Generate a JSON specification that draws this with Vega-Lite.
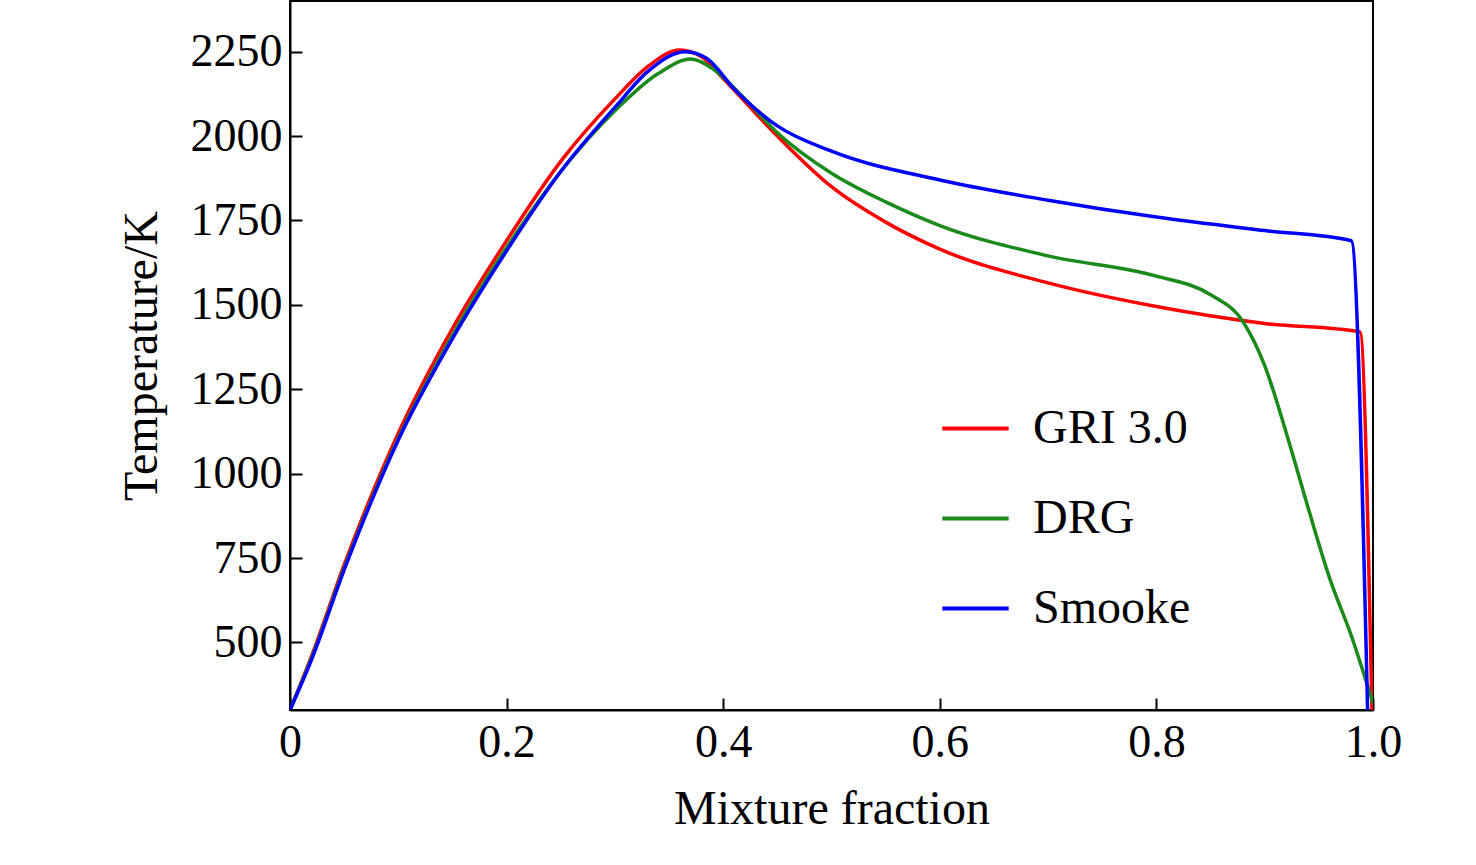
{
  "$schema": "https://vega.github.io/schema/vega-lite/v6.json",
  "autosize": "none",
  "width": 1083,
  "height": 709,
  "padding": {"left": 290, "top": 1, "right": 103, "bottom": 155},
  "background": "white",
  "config": {
    "font": "Liberation Serif",
    "view": {"stroke": "black", "strokeWidth": 2},
    "axis": {"labelFontSize": 46, "titleFontSize": 48, "titleFontWeight": "normal", "labelColor": "black", "titleColor": "black", "grid": false, "domainColor": "black", "domainWidth": 2, "tickColor": "black", "tickWidth": 2, "tickSize": -12}
  },
  "data": {"values": [
    {"s": "GRI 3.0", "x": 0, "t": 300},
    {"s": "GRI 3.0", "x": 0.02, "t": 460},
    {"s": "GRI 3.0", "x": 0.05, "t": 730},
    {"s": "GRI 3.0", "x": 0.1, "t": 1120},
    {"s": "GRI 3.0", "x": 0.15, "t": 1430},
    {"s": "GRI 3.0", "x": 0.2, "t": 1690},
    {"s": "GRI 3.0", "x": 0.25, "t": 1925},
    {"s": "GRI 3.0", "x": 0.3, "t": 2110},
    {"s": "GRI 3.0", "x": 0.33, "t": 2205},
    {"s": "GRI 3.0", "x": 0.36, "t": 2255},
    {"s": "GRI 3.0", "x": 0.38, "t": 2235},
    {"s": "GRI 3.0", "x": 0.4, "t": 2170},
    {"s": "GRI 3.0", "x": 0.45, "t": 2000},
    {"s": "GRI 3.0", "x": 0.5, "t": 1850},
    {"s": "GRI 3.0", "x": 0.55, "t": 1745},
    {"s": "GRI 3.0", "x": 0.6, "t": 1665},
    {"s": "GRI 3.0", "x": 0.7, "t": 1565},
    {"s": "GRI 3.0", "x": 0.8, "t": 1495},
    {"s": "GRI 3.0", "x": 0.9, "t": 1445},
    {"s": "GRI 3.0", "x": 0.988, "t": 1420},
    {"s": "GRI 3.0", "x": 0.999, "t": 300},
    {"s": "DRG", "x": 0, "t": 300},
    {"s": "DRG", "x": 0.02, "t": 455},
    {"s": "DRG", "x": 0.05, "t": 720},
    {"s": "DRG", "x": 0.1, "t": 1105},
    {"s": "DRG", "x": 0.15, "t": 1410},
    {"s": "DRG", "x": 0.2, "t": 1670},
    {"s": "DRG", "x": 0.25, "t": 1895},
    {"s": "DRG", "x": 0.3, "t": 2075},
    {"s": "DRG", "x": 0.34, "t": 2185},
    {"s": "DRG", "x": 0.37, "t": 2228},
    {"s": "DRG", "x": 0.39, "t": 2200},
    {"s": "DRG", "x": 0.42, "t": 2110},
    {"s": "DRG", "x": 0.45, "t": 2010},
    {"s": "DRG", "x": 0.5, "t": 1890},
    {"s": "DRG", "x": 0.55, "t": 1805},
    {"s": "DRG", "x": 0.6, "t": 1735},
    {"s": "DRG", "x": 0.7, "t": 1645},
    {"s": "DRG", "x": 0.8, "t": 1585},
    {"s": "DRG", "x": 0.85, "t": 1530},
    {"s": "DRG", "x": 0.88, "t": 1450},
    {"s": "DRG", "x": 0.9, "t": 1320},
    {"s": "DRG", "x": 0.92, "t": 1120},
    {"s": "DRG", "x": 0.94, "t": 900},
    {"s": "DRG", "x": 0.96, "t": 690},
    {"s": "DRG", "x": 0.98, "t": 520},
    {"s": "DRG", "x": 1.0, "t": 320},
    {"s": "Smooke", "x": 0, "t": 300},
    {"s": "Smooke", "x": 0.02, "t": 450},
    {"s": "Smooke", "x": 0.05, "t": 715},
    {"s": "Smooke", "x": 0.1, "t": 1100},
    {"s": "Smooke", "x": 0.15, "t": 1400},
    {"s": "Smooke", "x": 0.2, "t": 1660},
    {"s": "Smooke", "x": 0.25, "t": 1895},
    {"s": "Smooke", "x": 0.3, "t": 2085},
    {"s": "Smooke", "x": 0.33, "t": 2190},
    {"s": "Smooke", "x": 0.365, "t": 2250},
    {"s": "Smooke", "x": 0.385, "t": 2230},
    {"s": "Smooke", "x": 0.41, "t": 2140},
    {"s": "Smooke", "x": 0.45, "t": 2030},
    {"s": "Smooke", "x": 0.5, "t": 1955},
    {"s": "Smooke", "x": 0.6, "t": 1870},
    {"s": "Smooke", "x": 0.7, "t": 1810},
    {"s": "Smooke", "x": 0.8, "t": 1760},
    {"s": "Smooke", "x": 0.9, "t": 1720},
    {"s": "Smooke", "x": 0.98, "t": 1690},
    {"s": "Smooke", "x": 0.995, "t": 300}
  ]},
  "mark": {"type": "line", "strokeWidth": 3.5, "clip": true, "interpolate": "monotone"},
  "encoding": {
    "x": {"field": "x", "type": "quantitative", "scale": {"domain": [0, 1]},
      "title": "Mixture fraction", "axis": {"values": [0, 0.2, 0.4, 0.6, 0.8, 1.0], "labelExpr": "datum.value == 0 ? '0' : format(datum.value, '.1f')", "labelPadding": 22, "titlePadding": 20, "labelFlush": false}},
    "y": {"field": "t", "type": "quantitative", "scale": {"domain": [300, 2400], "nice": false},
      "title": "Temperature/K", "axis": {"values": [500, 750, 1000, 1250, 1500, 1750, 2000, 2250], "format": "d", "labelPadding": 20, "titlePadding": 24}},
    "color": {"field": "s", "type": "nominal",
      "scale": {"domain": ["GRI 3.0", "DRG", "Smooke"], "range": ["#ff0000", "#1a8a1a", "#0000ff"]},
      "legend": {"title": null, "orient": "none", "legendX": 650, "legendY": 392, "labelFontSize": 48, "symbolType": "stroke", "symbolSize": 4400, "symbolStrokeWidth": 4, "rowPadding": 30, "labelOffset": 22, "labelColor": "black"}},
    "order": {"field": "x", "type": "quantitative"}
  }
}
